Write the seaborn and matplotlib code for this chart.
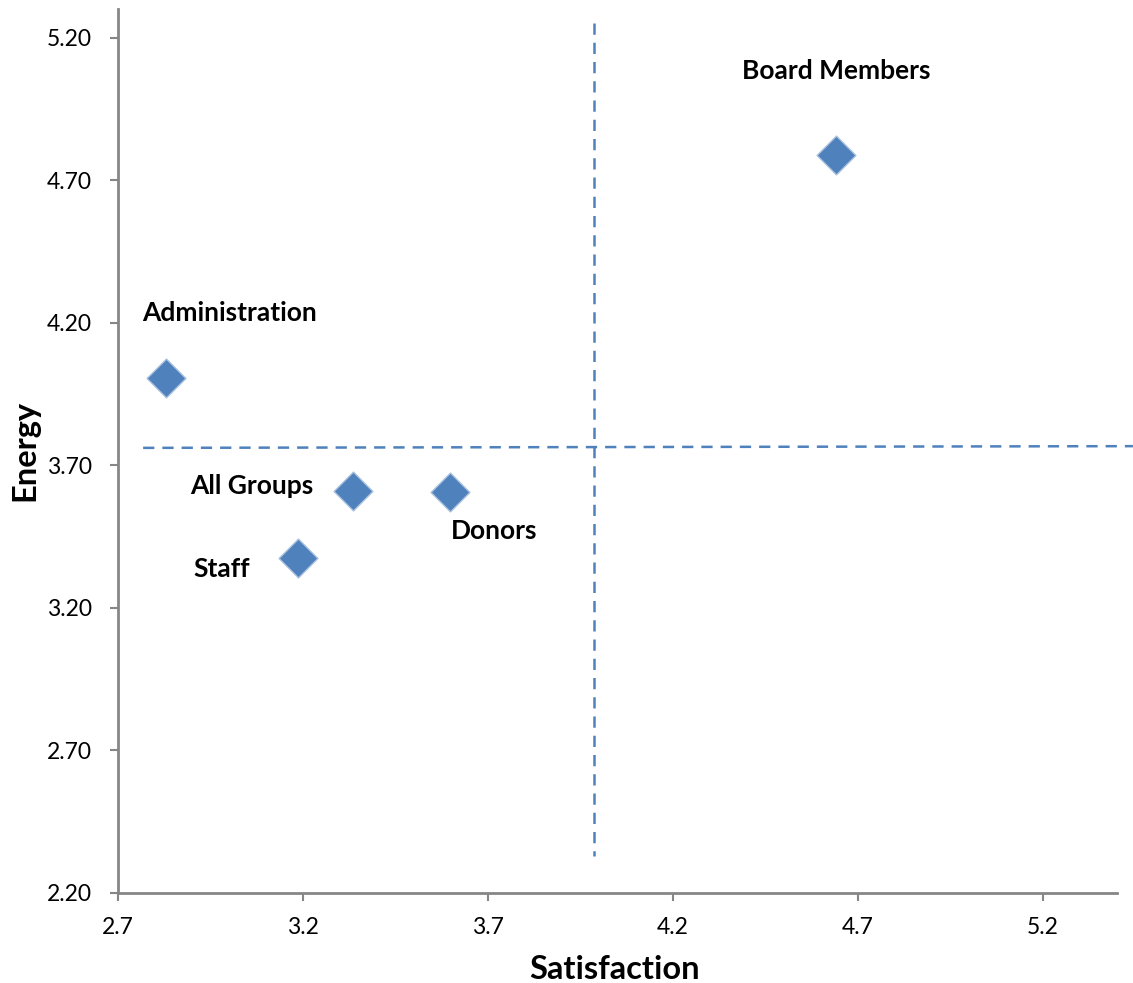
import matplotlib
matplotlib.use("Agg")
import matplotlib.pyplot as plt
import pandas as pd
import seaborn as sns

# Group scores
groups = ["Board Members", "Administration", "All Groups", "Donors", "Staff"]
satisfaction = [4.64, 2.83, 3.335, 3.597, 3.186]
energy = [4.787, 4.005, 3.609, 3.606, 3.374]

# Quadrant divider lines
vline_x = [3.987, 3.987]
vline_y = [5.25, 2.33]
hline_x = [2.768, 5.443]
hline_y = [3.761, 3.767]

# Axis ticks
x_ticks = [2.7, 3.2, 3.7, 4.2, 4.7, 5.2]
y_ticks = [2.2, 2.7, 3.2, 3.7, 4.2, 4.7, 5.2]

# Label offsets from each point (points)
label_offsets = {
    "Board Members": (0, 61),
    "Administration": (46, 47),
    "All Groups": (-73, 4),
    "Donors": (32, -28),
    "Staff": (-55, -8),
}

BLUE = "#4F81BD"
GREY = "#868686"


def main() -> None:
    """Draw the satisfaction/energy quadrant chart"""
    sns.set_theme(style="white")
    plt.rcParams["font.family"] = ["Lato", "DejaVu Sans"]

    df = pd.DataFrame({"group": groups, "satisfaction": satisfaction, "energy": energy})

    fig = plt.figure(figsize=(11.33, 9.83), dpi=100)
    ax = fig.add_axes([0.1041, 0.0916, 0.8818, 0.8992])

    # Divider lines
    ax.plot(vline_x, vline_y, color=BLUE, lw=1.8, ls=(0, (4.5, 3.2)), clip_on=False)
    ax.plot(hline_x, hline_y, color=BLUE, lw=1.8, ls=(0, (4.5, 3.2)), clip_on=False)

    # Points
    sns.scatterplot(
        data=df, x="satisfaction", y="energy", ax=ax,
        marker="D", s=390, color=BLUE, edgecolor="#A9C1DE", linewidth=1,
        zorder=3, clip_on=False,
    )

    for g, x, y in zip(groups, satisfaction, energy):
        dx, dy = label_offsets[g]
        ax.annotate(
            g, (x, y), xytext=(dx, dy), textcoords="offset points",
            ha="center", va="center", fontsize=19, fontweight="bold", color="black",
        )

    ax.set_xlim(2.7, 5.4)
    ax.set_ylim(2.2, 5.3)
    ax.set_xticks(x_ticks, [f"{v:.1f}" for v in x_ticks])
    ax.set_yticks(y_ticks, [f"{v:.2f}" for v in y_ticks])
    ax.tick_params(axis="both", direction="out", length=6, width=1.5, color=GREY,
                   labelsize=16.5, labelcolor="black", bottom=True, left=True)
    ax.tick_params(axis="x", pad=11)
    ax.tick_params(axis="y", pad=13)

    for side in ("top", "right"):
        ax.spines[side].set_visible(False)
    for side in ("left", "bottom"):
        ax.spines[side].set_color(GREY)
        ax.spines[side].set_linewidth(2)

    ax.set_xlabel("Satisfaction", fontsize=23.5, fontweight="bold", color="black")
    ax.set_ylabel("Energy", fontsize=23.5, fontweight="bold", color="black")
    ax.xaxis.set_label_coords(0.497, -0.087)
    ax.xaxis.label.set_va("center")
    ax.yaxis.set_label_coords(-0.093, 0.501)
    ax.yaxis.label.set_va("center")

    fig.savefig("out.png", dpi=100)
    plt.close(fig)


if __name__ == "__main__":
    main()
